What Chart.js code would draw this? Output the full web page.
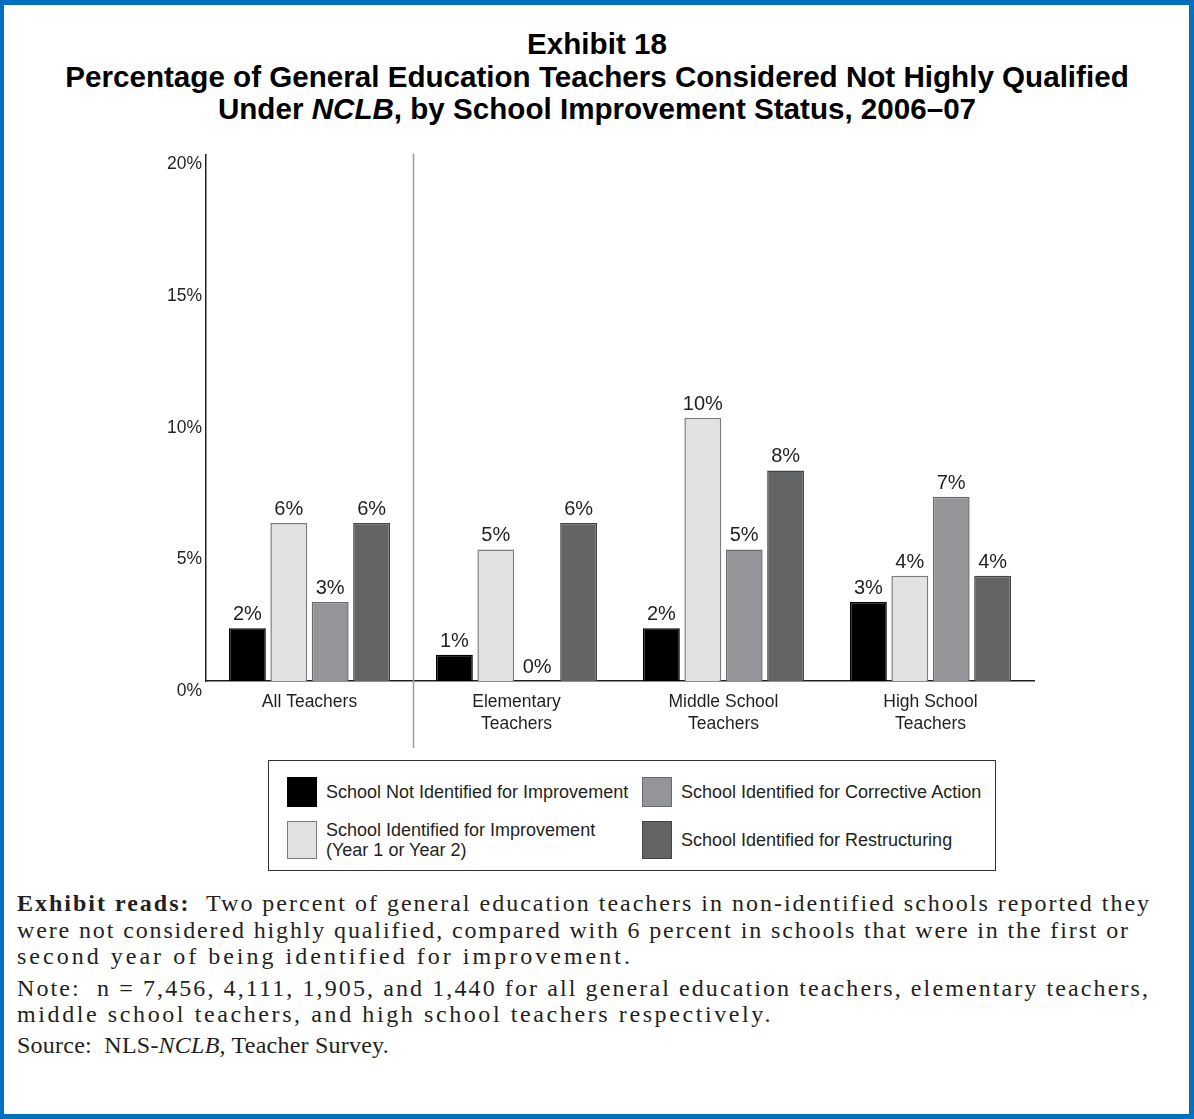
<!DOCTYPE html>
<html>
<head>
<meta charset="utf-8">
<script src="https://cdn.jsdelivr.net/npm/chart.js@4.4.1/dist/chart.umd.min.js"></script>
<style>
html,body{margin:0;padding:0;background:#fff;}
body{width:1194px;height:1119px;position:relative;overflow:hidden;}
#frame{position:absolute;left:0;top:0;width:1194px;height:1119px;box-sizing:border-box;border:4px solid #0070C0;border-top-width:5px;border-right-width:5px;border-bottom-width:5px;}
#title{position:absolute;left:0;top:28px;width:1194px;text-align:center;font:bold 29.6px/32.5px "Liberation Sans",Arial,sans-serif;color:#000;}
#chartWrap{position:absolute;left:0;top:140px;width:1194px;height:620px;}
#legend{position:absolute;left:268px;top:760px;width:728px;height:111px;box-sizing:border-box;border:1.5px solid #333;font:18px/20px "Liberation Sans",Arial,sans-serif;color:#231f20;}
.item{position:absolute;display:flex;align-items:center;}
.sw{box-sizing:border-box;border:1.5px solid #555;margin-right:9px;flex:none;}
.note{position:absolute;left:17px;white-space:nowrap;font:24px/26.5px "Liberation Serif","Times New Roman",serif;color:#231f20;}
</style>
</head>
<body>
<div id="frame"></div>
<div id="title">Exhibit 18<br>Percentage of General Education Teachers Considered Not Highly Qualified<br>Under <i>NCLB</i>, by School Improvement Status, 2006–07</div>
<div id="chartWrap"><canvas id="c"></canvas></div>
<div id="legend"></div>
<div class="note" data-w="1134" style="top:890px"><b>Exhibit reads:</b>&nbsp; Two percent of general education teachers in non-identified schools reported they</div>
<div class="note" data-w="1113" style="top:916.5px">were not considered highly qualified, compared with 6 percent in schools that were in the first or</div>
<div class="note" data-w="616" style="top:943px">second year of being identified for improvement.</div>
<div class="note" data-w="1133" style="top:974.5px">Note:&nbsp; n = 7,456, 4,111, 1,905, and 1,440 for all general education teachers, elementary teachers,</div>
<div class="note" data-w="756" style="top:1001px">middle school teachers, and high school teachers respectively.</div>
<div class="note" data-w="372" style="top:1032px">Source:&nbsp; NLS-<i>NCLB</i>, Teacher Survey.</div>
<script>
// ---- data ----
const categories = [['All Teachers'], ['Elementary', 'Teachers'], ['Middle School', 'Teachers'], ['High School', 'Teachers']];
const seriesLabels = [
  'School Not Identified for Improvement',
  'School Identified for Improvement\n(Year 1 or Year 2)',
  'School Identified for Corrective Action',
  'School Identified for Restructuring'
];
const notIdentified      = [2, 1, 2, 3];
const identifiedYear1or2 = [6, 5, 10, 4];
const correctiveAction   = [3, 0, 5, 7];
const restructuring      = [6, 6, 8, 4];
const yTickValues = [0, 5, 10, 15, 20];

const seriesData = [notIdentified, identifiedYear1or2, correctiveAction, restructuring];
const fills   = ['#000000', '#E1E2E4', '#939598', '#636466'];
const borders = ['#000000', '#7A7B7D', '#6A6B6D', '#454547'];
const FONT = '"Liberation Sans", Arial, sans-serif';

const valueLabels = {
  id: 'valueLabels',
  afterDatasetsDraw(chart) {
    const ctx = chart.ctx;
    ctx.save();
    ctx.font = '20px ' + FONT;
    ctx.fillStyle = '#231f20';
    ctx.textAlign = 'center';
    ctx.textBaseline = 'alphabetic';
    chart.data.datasets.forEach((ds, i) => {
      chart.getDatasetMeta(i).data.forEach((bar, j) => {
        ctx.fillText(ds.data[j] + '%', bar.x, bar.y - 8);
      });
    });
    ctx.restore();
  }
};

const divider = {
  id: 'divider',
  afterDraw(chart) {
    const xs = chart.scales.x, ca = chart.chartArea, ctx = chart.ctx;
    const px = Math.round((xs.getPixelForValue(0) + xs.getPixelForValue(1)) / 2) + 0.5;
    ctx.save();
    ctx.strokeStyle = '#9a9a9a';
    ctx.lineWidth = 1.5;
    ctx.beginPath();
    ctx.moveTo(px, ca.top - 1);
    ctx.lineTo(px, ca.bottom + 67);
    ctx.stroke();
    ctx.restore();
  }
};

const chart = new Chart(document.getElementById('c'), {
  type: 'bar',
  data: {
    labels: categories,
    datasets: seriesData.map((d, i) => ({
      label: seriesLabels[i],
      data: d,
      backgroundColor: fills[i],
      borderColor: borders[i],
      borderWidth: 1.5,
      borderSkipped: 'bottom',
      categoryPercentage: 0.8,
      barPercentage: 0.89
    }))
  },
  options: {
    responsive: true,
    maintainAspectRatio: false,
    animation: false,
    layout: { padding: { left: 0, right: 160, top: 12, bottom: 0 } },
    plugins: { legend: { display: false }, tooltip: { enabled: false }, title: { display: false } },
    scales: {
      x: {
        grid: { display: false, drawTicks: false },
        border: { display: true, color: '#231f20', width: 1.5 },
        ticks: { padding: 10, color: '#231f20', maxRotation: 0, autoSkip: false,
                 font: { family: FONT, size: 17.5, lineHeight: 1.257 } },
        afterFit(s) { s.height = 79; }
      },
      y: {
        min: 0, max: 20,
        afterBuildTicks(s) { s.ticks = yTickValues.map(v => ({ value: v })); },
        grid: { display: false, drawTicks: false },
        border: { display: true, color: '#231f20', width: 1.5 },
        ticks: { padding: 4, labelOffset: 10, color: '#231f20',
                 font: { family: FONT, size: 17.5 },
                 callback: v => v + '%' },
        afterFit(s) { s.width = 206; }
      }
    }
  },
  plugins: [valueLabels, divider]
});

// ---- HTML legend built from the chart datasets ----
const legend = document.getElementById('legend');
const slots = [
  { left: 18, top: 16, h: 30 },   // series 0
  { left: 18, top: 60, h: 38 },   // series 1
  { left: 373, top: 16, h: 30 },  // series 2
  { left: 373, top: 60, h: 38 }   // series 3
];
chart.data.datasets.forEach((ds, i) => {
  const it = document.createElement('div');
  it.className = 'item';
  it.style.left = slots[i].left + 'px';
  it.style.top = slots[i].top + 'px';
  it.style.height = slots[i].h + 'px';
  const sw = document.createElement('div');
  sw.className = 'sw';
  sw.style.width = '30px';
  sw.style.height = slots[i].h + 'px';
  sw.style.background = ds.backgroundColor;
  sw.style.borderColor = ds.borderColor;
  const tx = document.createElement('div');
  tx.innerHTML = ds.label.split('\n').join('<br>');
  it.appendChild(sw); it.appendChild(tx);
  legend.appendChild(it);
});

// ---- fit footnote lines to the widths of the original ----
document.querySelectorAll('.note').forEach(el => {
  const target = +el.dataset.w;
  const nat = el.getBoundingClientRect().width;
  const n = el.textContent.length;
  if (n > 1) el.style.letterSpacing = ((target - nat) / n).toFixed(3) + 'px';
});
</script>
</body>
</html>
